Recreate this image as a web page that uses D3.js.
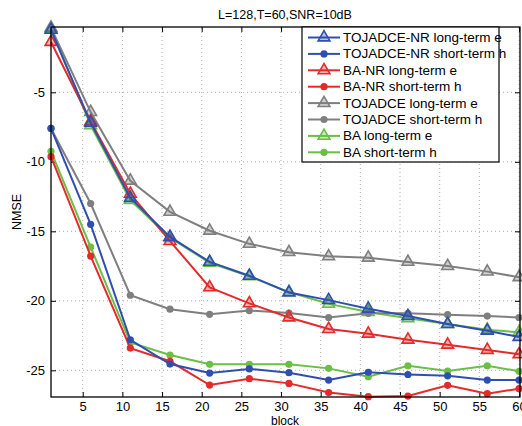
<!DOCTYPE html>
<html>
<head>
<meta charset="utf-8">
<script src="https://cdn.jsdelivr.net/npm/d3@7"></script>
<style>
  body { margin: 0; background: #fff; }
  text { font-family: "Liberation Sans", Arial, sans-serif; }
</style>
</head>
<body>
<div id="chart"></div>
<script>
const blocks = [1, 6, 11, 16, 21, 26, 31, 36, 41, 46, 51, 56, 60];
const xTicks = [5, 10, 15, 20, 25, 30, 35, 40, 45, 50, 55, 60];
const yTicks = [-25, -20, -15, -10, -5];

const tojNrLong  = [-0.5, -7.2, -12.6, -15.4, -17.2, -18.2, -19.4, -19.95, -20.57, -21.1, -21.67, -22.15, -22.6];
const tojNrShort = [-7.6, -14.5, -22.8, -24.55, -25.2, -24.9, -25.17, -25.7, -25.14, -25.3, -25.4, -25.7, -25.7];
const baNrLong   = [-1.38, -7.1, -12.3, -15.7, -19.03, -20.18, -21.2, -22.03, -22.37, -22.8, -23.16, -23.54, -23.85];
const baNrShort  = [-9.63, -16.78, -23.4, -24.35, -26.06, -25.6, -25.94, -26.6, -26.9, -26.85, -26.08, -26.68, -26.32];
const tojLong    = [-0.35, -6.42, -11.36, -13.6, -14.96, -15.9, -16.5, -16.8, -16.9, -17.2, -17.5, -17.9, -18.3];
const tojShort   = [-7.6, -13.0, -19.6, -20.6, -20.97, -20.7, -20.88, -21.2, -20.9, -20.9, -21.0, -21.1, -21.2];
const baLong     = [-0.45, -7.37, -12.75, -15.46, -17.26, -18.24, -19.37, -20.22, -20.8, -21.26, -21.67, -22.08, -22.27];
const baShort    = [-9.24, -16.13, -23.0, -23.9, -24.57, -24.57, -24.57, -24.86, -25.46, -24.67, -25.05, -24.67, -25.07];

const BLUE = '#2f4fb0', RED = '#e42a2a', GRAY = '#7f7f7f', GREEN = '#6abf45';

const series = [
  { name: 'TOJADCE-NR long-term e',  values: tojNrLong,  color: BLUE,  marker: 'tri' },
  { name: 'TOJADCE-NR short-term h', values: tojNrShort, color: BLUE,  marker: 'dot' },
  { name: 'BA-NR long-term e',       values: baNrLong,   color: RED,   marker: 'tri' },
  { name: 'BA-NR short-term h',      values: baNrShort,  color: RED,   marker: 'dot' },
  { name: 'TOJADCE long-term e',     values: tojLong,    color: GRAY,  marker: 'tri' },
  { name: 'TOJADCE short-term h',    values: tojShort,   color: GRAY,  marker: 'dot' },
  { name: 'BA long-term e',          values: baLong,     color: GREEN, marker: 'tri' },
  { name: 'BA short-term h',         values: baShort,    color: GREEN, marker: 'dot' }
];

const width = 522, height = 426;
const margin = { top: 27, right: 2, bottom: 29, left: 51 };
const x0 = margin.left, x1 = width - margin.right;
const y0 = height - margin.bottom, y1 = margin.top;

const svg = d3.select('#chart').append('svg')
  .attr('width', width).attr('height', height);

const x = d3.scaleLinear().domain([1, 60]).range([x0, x1 - 1]);
const y = d3.scaleLinear().domain([-26.92, -0.3]).range([y0, y1]);

// grid
const grid = svg.append('g').attr('stroke', '#999').attr('stroke-dasharray', '1,3').attr('stroke-width', 0.8);
xTicks.forEach(t => grid.append('line').attr('x1', x(t)).attr('x2', x(t)).attr('y1', y0).attr('y2', y1));
yTicks.forEach(t => grid.append('line').attr('y1', y(t)).attr('y2', y(t)).attr('x1', x0).attr('x2', x1));

// axes
const fmt = d => d < 0 ? '-' + Math.abs(d) : d;
svg.append('g').attr('transform', `translate(0,${y0})`)
  .call(d3.axisBottom(x).tickValues(xTicks).tickSize(-5).tickPadding(5))
  .call(g => g.select('.domain').remove())
  .call(g => g.selectAll('text').attr('font-size', 13).attr('fill', '#000'));
svg.append('g').attr('transform', `translate(0,${y1})`)
  .call(d3.axisTop(x).tickValues(xTicks).tickSize(-5).tickFormat(''))
  .call(g => g.select('.domain').remove());
svg.append('g').attr('transform', `translate(${x0},0)`)
  .call(d3.axisLeft(y).tickValues(yTicks).tickSize(-5).tickPadding(6).tickFormat(fmt))
  .call(g => g.select('.domain').remove())
  .call(g => g.selectAll('text').attr('font-size', 13).attr('fill', '#000'));
svg.append('g').attr('transform', `translate(${x1},0)`)
  .call(d3.axisRight(y).tickValues(yTicks).tickSize(-5).tickFormat(''))
  .call(g => g.select('.domain').remove());

const line = d3.line().x((d, i) => x(blocks[i])).y(d => y(d));
const triPath = d3.symbol().type(d3.symbolTriangle).size(60);

function drawMarker(g, type, color, cx, cy) {
  if (type === 'tri') {
    g.append('path').attr('d', triPath()).attr('transform', `translate(${cx},${cy})`)
      .attr('fill', color).attr('fill-opacity', 0.35)
      .attr('stroke', color).attr('stroke-width', 1.6);
  } else {
    g.append('circle').attr('cx', cx).attr('cy', cy).attr('r', 3.6).attr('fill', color);
  }
}

const plot = svg.append('g');
series.slice().reverse().forEach(s => {
  plot.append('path').datum(s.values).attr('d', line)
    .attr('fill', 'none').attr('stroke', s.color).attr('stroke-width', 2);
  s.values.forEach((v, i) => drawMarker(plot, s.marker, s.color, x(blocks[i]), y(v)));
});

// frame
svg.append('rect').attr('x', x0).attr('y', y1).attr('width', x1 - x0).attr('height', y0 - y1)
  .attr('fill', 'none').attr('stroke', '#000').attr('stroke-width', 1.3);

// labels
svg.append('text').attr('x', 285).attr('y', 19).attr('text-anchor', 'middle')
  .attr('font-size', 12.5).text('L=128,T=60,SNR=10dB');
svg.append('text').attr('x', 285).attr('y', 425).attr('text-anchor', 'middle')
  .attr('font-size', 12).text('block');
svg.append('text').attr('transform', 'translate(21,212) rotate(-90)').attr('text-anchor', 'middle')
  .attr('font-size', 12.5).text('NMSE');

// legend
const lg = svg.append('g');
lg.append('rect').attr('x', 302).attr('y', 27).attr('width', 197).attr('height', 135)
  .attr('fill', '#fff').attr('stroke', '#000').attr('stroke-width', 1.2);
series.forEach((s, i) => {
  const ly = 37.5 + i * 16.4;
  lg.append('line').attr('x1', 308).attr('x2', 340).attr('y1', ly).attr('y2', ly)
    .attr('stroke', s.color).attr('stroke-width', 2);
  drawMarker(lg, s.marker, s.color, 324, ly);
  lg.append('text').attr('x', 343).attr('y', ly + 4.5).attr('font-size', 13.5).text(s.name);
});
</script>
</body>
</html>
